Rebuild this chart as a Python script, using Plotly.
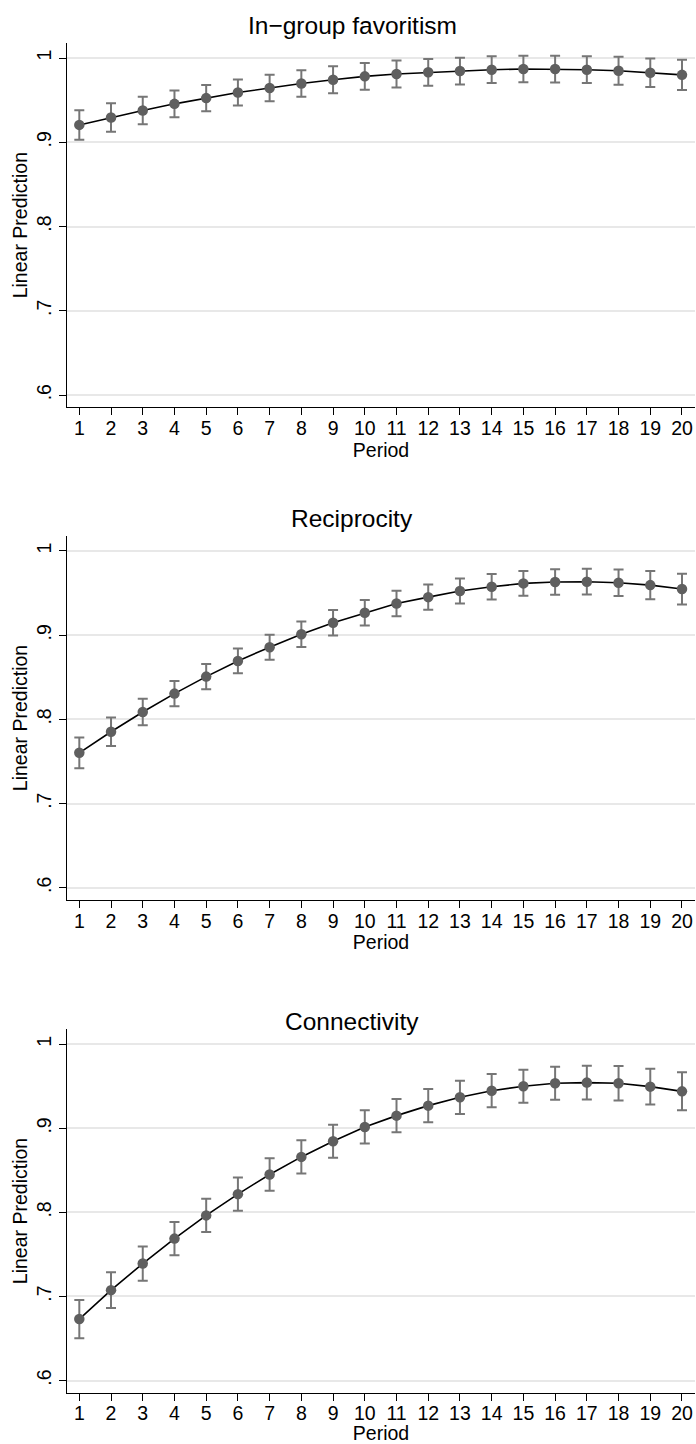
import plotly.graph_objects as go

periods = list(range(1, 21))

titles = ["In−group favoritism", "Reciprocity", "Connectivity"]

ingroup = [0.9206, 0.9294, 0.9377, 0.9456, 0.9524, 0.9591, 0.9643, 0.9698, 0.9742, 0.9782,
           0.9810, 0.9830, 0.9845, 0.9861, 0.9869, 0.9869, 0.9861, 0.9849, 0.9825, 0.9800]
ingroup_ci = [0.0175, 0.0169, 0.0163, 0.0159, 0.0157, 0.0155, 0.0157, 0.0157, 0.0159, 0.0159,
              0.0159, 0.0159, 0.0159, 0.0159, 0.0157, 0.0159, 0.0159, 0.0165, 0.0169, 0.0179]

recip = [0.7603, 0.7853, 0.8087, 0.8306, 0.8508, 0.8694, 0.8857, 0.9012, 0.9147, 0.9266,
         0.9377, 0.9452, 0.9524, 0.9575, 0.9615, 0.9631, 0.9635, 0.9623, 0.9595, 0.9548]
recip_ci = [0.0183, 0.0169, 0.0157, 0.0151, 0.0149, 0.0147, 0.0149, 0.0151, 0.0151, 0.0151,
            0.0151, 0.0151, 0.0149, 0.0151, 0.0147, 0.0151, 0.0153, 0.0157, 0.0167, 0.0183]

conn = [0.6731, 0.7075, 0.7391, 0.7688, 0.7964, 0.8217, 0.8451, 0.8660, 0.8846, 0.9016,
        0.9151, 0.9270, 0.9369, 0.9448, 0.9500, 0.9536, 0.9544, 0.9536, 0.9496, 0.9440]
conn_ci = [0.0227, 0.0213, 0.0204, 0.0198, 0.0198, 0.0198, 0.0194, 0.0198, 0.0196, 0.0198,
           0.0198, 0.0198, 0.0198, 0.0198, 0.0196, 0.0196, 0.0200, 0.0204, 0.0212, 0.0226]

y_tick_vals = [0.6, 0.7, 0.8, 0.9, 1.0]
y_tick_text = [".6", ".7", ".8", ".9", "1"]

series = [(ingroup, ingroup_ci), (recip, recip_ci), (conn, conn_ci)]

W, H = 696, 1444
FONT = "Liberation Sans, Arial, Helvetica, sans-serif"

# pixel layout of the three panels (top, bottom)
panel_px = [(43, 407.3), (536, 900), (1029.3, 1392.7)]
title_px = [25, 518, 1021]
x_left, x_right = 67, 695

fig = go.Figure()
layout = dict(
    width=W, height=H,
    margin=dict(l=0, r=0, t=0, b=0),
    paper_bgcolor="white", plot_bgcolor="white",
    showlegend=False,
    font=dict(family=FONT, color="black", size=19),
    annotations=[],
)

for i, ((vals, ci), (top, bot)) in enumerate(zip(series, panel_px)):
    n = i + 1
    xa = "x" if n == 1 else f"x{n}"
    ya = "y" if n == 1 else f"y{n}"
    fig.add_trace(go.Scatter(
        x=periods, y=vals, mode="lines",
        line=dict(color="black", width=1.6),
        xaxis=xa, yaxis=ya, hoverinfo="skip"))
    fig.add_trace(go.Scatter(
        x=periods, y=vals, mode="markers",
        marker=dict(color="#5f5f5f", size=10.5),
        error_y=dict(type="data", array=ci, visible=True,
                     color="#767676", thickness=2, width=5),
        xaxis=xa, yaxis=ya))

    xkey = "xaxis" if n == 1 else f"xaxis{n}"
    ykey = "yaxis" if n == 1 else f"yaxis{n}"
    layout[xkey] = dict(
        domain=[x_left / W, x_right / W],
        anchor=ya,
        range=[0.612, 20.41],
        tickmode="array", tickvals=periods, ticktext=[str(p) for p in periods],
        ticks="outside", ticklen=7, tickwidth=1, tickcolor="black",
        ticklabelstandoff=-4,
        showline=True, linecolor="black", linewidth=1.2,
        showgrid=False, zeroline=False,
        tickfont=dict(size=19.5, family=FONT, color="black"),
        title=dict(text="Period", font=dict(size=19.5, family=FONT, color="black"), standoff=0),
    )
    layout[ykey] = dict(
        domain=[1 - bot / H, 1 - top / H],
        anchor=xa,
        range=[0.5855, 1.0178],
        tickmode="array", tickvals=y_tick_vals, ticktext=y_tick_text,
        tickangle=-90,
        ticks="outside", ticklen=7, tickwidth=1, tickcolor="black",
        showline=True, linecolor="black", linewidth=1.2,
        showgrid=True, gridcolor="#e8e8e8", gridwidth=1.5,
        zeroline=False,
        tickfont=dict(size=19.5, family=FONT, color="black"),
        title=dict(text="Linear Prediction", font=dict(size=19.5, family=FONT, color="black"), standoff=0),
    )
    layout["annotations"].append(dict(
        text=titles[i], x=352 / W, y=1 - title_px[i] / H,
        xref="paper", yref="paper", xanchor="center", yanchor="middle",
        showarrow=False, font=dict(size=24.5, family=FONT, color="black")))

fig.update_layout(**layout)
fig.write_html("out.html", config={"displayModeBar": False},
               post_script="document.body.style.margin='0';")
